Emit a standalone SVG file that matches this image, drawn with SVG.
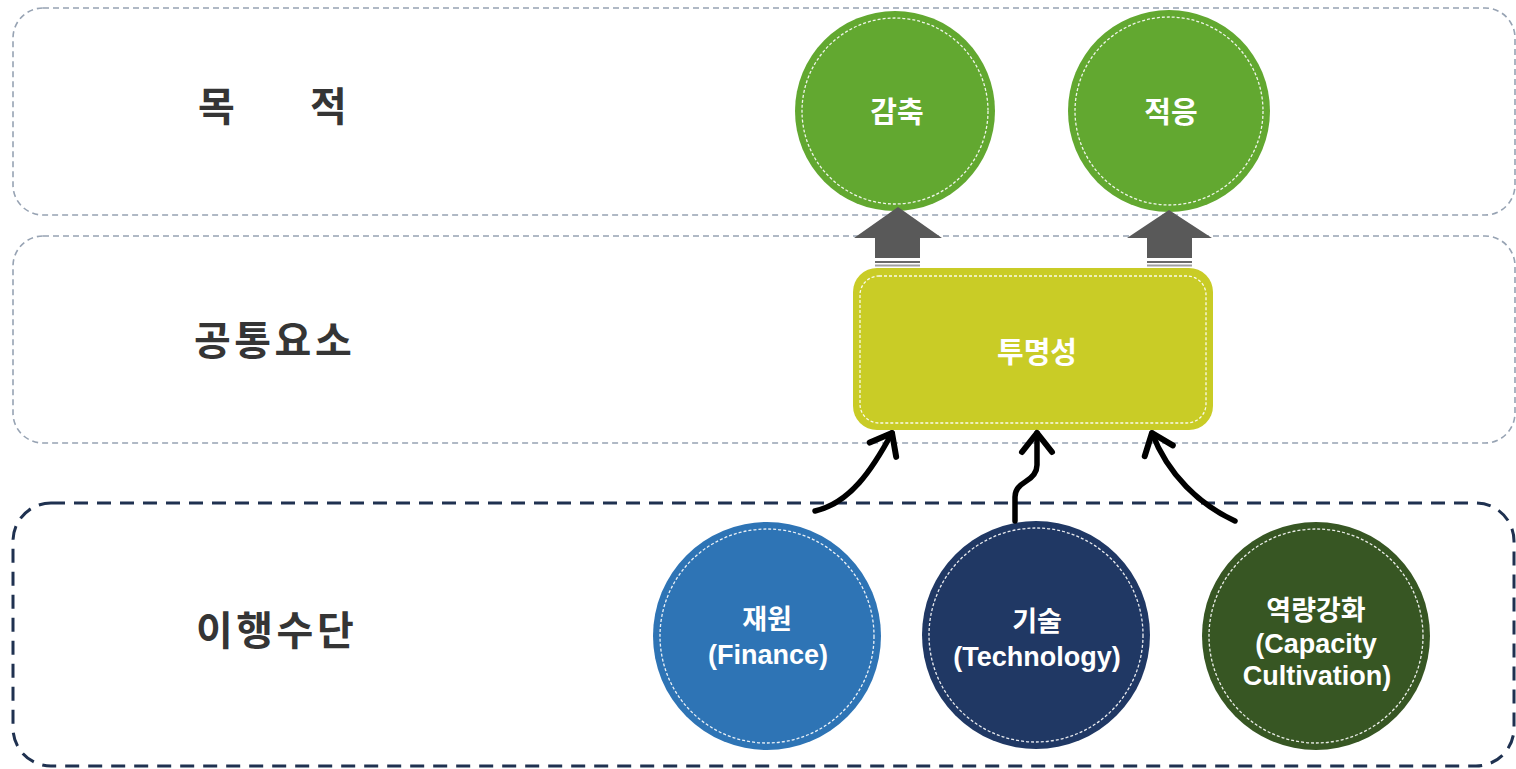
<svg xmlns="http://www.w3.org/2000/svg" width="1516" height="769" viewBox="0 0 1516 769">
  <style>
    .band { fill: none; stroke: #97a3b3; stroke-width: 1.6; stroke-dasharray: 6 4; }
    .band-main { fill: none; stroke: #1f3150; stroke-width: 3; stroke-dasharray: 14 9; }
    .label { font-family: "Liberation Sans", "Noto Sans CJK KR", sans-serif; font-weight: bold; font-size: 40px; fill: #353535; }
    .node-text { font-family: "Liberation Sans", "Noto Sans CJK KR", sans-serif; font-weight: bold; fill: #ffffff; text-anchor: middle; }
    .stitch { fill: none; stroke: #ffffff; stroke-width: 1.3; stroke-dasharray: 3 2; opacity: 0.9; }
    .block-arrow { fill: #595959; }
    .link { fill: none; stroke: #000000; stroke-width: 5.5; stroke-linecap: round; stroke-linejoin: round; marker-end: url(#chevron); }
  </style>
  <defs>
    <marker id="chevron" markerUnits="userSpaceOnUse" markerWidth="40" markerHeight="40" viewBox="-25 -20 30 40" refX="0" refY="0" orient="auto" overflow="visible">
      <path d="M-19,-15 L0,0 L-19,15" fill="none" stroke="#000000" stroke-width="6" stroke-linecap="round" stroke-linejoin="round"/>
    </marker>
  </defs>

  <rect width="1516" height="769" fill="#ffffff"/>

  <!-- horizontal bands -->
  <g id="band-purpose">
    <rect class="band" x="13" y="8" width="1502" height="207" rx="30" ry="30"/>
    <text class="label"><tspan x="198" y="121">목</tspan><tspan x="310" y="121">적</tspan></text>
  </g>
  <g id="band-common">
    <rect class="band" x="13" y="236" width="1502" height="207" rx="30" ry="30"/>
    <text class="label" x="194" y="355" letter-spacing="3.5">공통요소</text>
  </g>
  <g id="band-means">
    <rect class="band-main" x="13" y="503" width="1501" height="263" rx="38" ry="38"/>
    <text class="label" x="196" y="645" letter-spacing="3.5">이행수단</text>
  </g>

  <!-- purpose nodes -->
  <g id="node-mitigation">
    <circle cx="895" cy="111" r="100" fill="#62a830"/>
    <circle class="stitch" cx="895" cy="111" r="93"/>
    <text class="node-text" x="897" y="123" font-size="29">감축</text>
  </g>
  <g id="node-adaptation">
    <circle cx="1169" cy="111" r="101" fill="#62a830"/>
    <circle class="stitch" cx="1169" cy="111" r="94"/>
    <text class="node-text" x="1171" y="123" font-size="29">적응</text>
  </g>

  <!-- common element node -->
  <g id="node-transparency">
    <rect x="853" y="268" width="360" height="162" rx="24" ry="24" fill="#c9cc26"/>
    <rect class="stitch" x="860" y="276" width="346" height="147" rx="19" ry="19"/>
    <text class="node-text" x="1037" y="363" font-size="29">투명성</text>
  </g>

  <!-- means nodes -->
  <g id="node-finance">
    <circle cx="767" cy="636" r="114" fill="#2e74b5"/>
    <circle class="stitch" cx="767" cy="636" r="107"/>
    <text class="node-text" font-size="27"><tspan x="767" y="629">재원</tspan><tspan x="768" y="664">(Finance)</tspan></text>
  </g>
  <g id="node-technology">
    <circle cx="1036" cy="635" r="114" fill="#203864"/>
    <circle class="stitch" cx="1036" cy="635" r="107"/>
    <text class="node-text" font-size="27"><tspan x="1037" y="631">기술</tspan><tspan x="1037" y="666">(Technology)</tspan></text>
  </g>
  <g id="node-capacity">
    <circle cx="1316" cy="636" r="114" fill="#375623"/>
    <circle class="stitch" cx="1316" cy="636" r="107"/>
    <text class="node-text" font-size="27"><tspan x="1316" y="620">역량강화</tspan><tspan x="1316" y="653">(Capacity</tspan><tspan x="1317" y="685">Cultivation)</tspan></text>
  </g>

  <!-- connectors -->
  <g id="connectors">
    <polygon class="block-arrow" points="898,207 942,238 920,238 920,258 875,258 875,238 854,238"/>
    <line x1="875" y1="262" x2="920" y2="262" stroke="#6a6a6a" stroke-width="2"/>
    <line x1="875" y1="265.5" x2="920" y2="265.5" stroke="#a0a0a0" stroke-width="2"/>
    <polygon class="block-arrow" points="1169,210 1212,238 1192,238 1192,258 1147,258 1147,238 1127,238"/>
    <line x1="1147" y1="262" x2="1192" y2="262" stroke="#6a6a6a" stroke-width="2"/>
    <line x1="1147" y1="265.5" x2="1192" y2="265.5" stroke="#a0a0a0" stroke-width="2"/>

    <path class="link" d="M815,511 C850,503 872,470 892,433"/>
    <path class="link" d="M1015,521 L1015,497 Q1015,488 1025,482 Q1037,475 1037,465 L1037,433"/>
    <path class="link" d="M1235,521 C1200,505 1168,475 1152,433"/>
  </g>
</svg>
